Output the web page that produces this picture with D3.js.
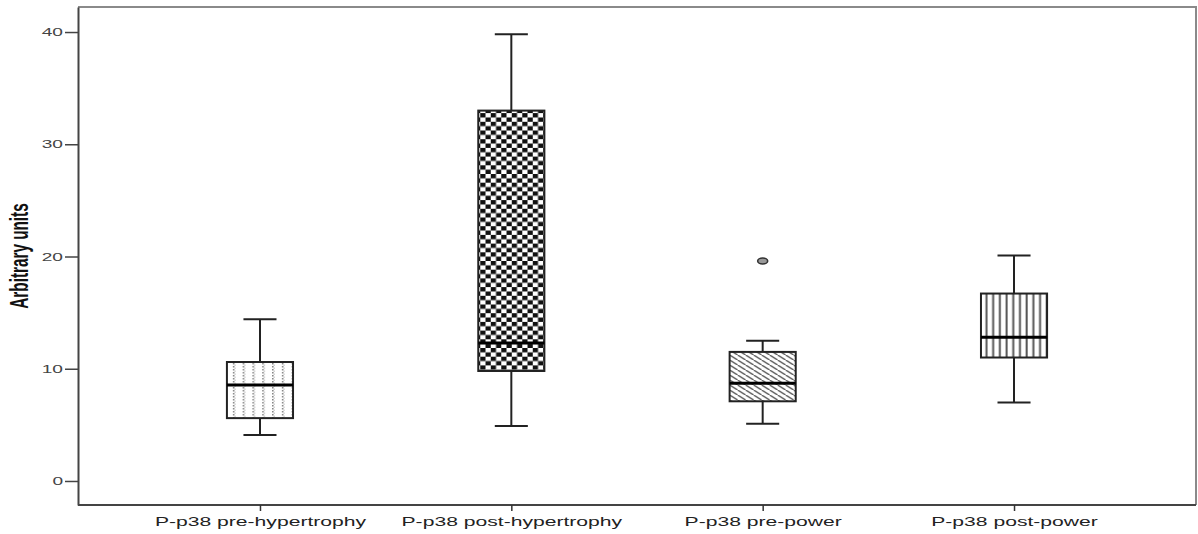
<!DOCTYPE html>
<html>
<head>
<meta charset="utf-8">
<script src="https://cdn.jsdelivr.net/npm/d3@7"></script>
<style>
  html, body { margin: 0; padding: 0; background: #fff; }
  svg { display: block; }
  text { font-family: "Liberation Sans", Arial, sans-serif; }
</style>
</head>
<body>
<svg id="chart" width="1198" height="534"></svg>
<script>
// Box-plot summary values per group (arbitrary units)
const categories   = ["P-p38 pre-hypertrophy", "P-p38 post-hypertrophy", "P-p38 pre-power", "P-p38 post-power"];
const whiskerLow   = [4.1, 4.9, 5.1, 7.0];
const quartile1    = [5.6, 9.8, 7.1, 11.0];
const medians      = [8.55, 12.3, 8.7, 12.8];
const quartile3    = [10.6, 33.0, 11.5, 16.7];
const whiskerHigh  = [14.4, 39.8, 12.5, 20.1];
const outlierGroup = ["P-p38 pre-power"];
const outlierValue = [19.6];
const yTicks       = [0, 10, 20, 30, 40];
const yTitle       = "Arbitrary units";

// Layout
const W = 1198, H = 534;
const plot = { left: 78, right: 1196, top: 7, bottom: 505 };
const SX = 1.65;            // horizontal stretch applied to all text
const svg = d3.select("#chart");

const x = d3.scalePoint().domain(categories).range([plot.left, plot.right]).padding(0.724);
const y = d3.scaleLinear().domain([-2.14, 42.23]).range([plot.bottom, plot.top]);
const boxW = x.step() * 0.263;

// Fill patterns, one per box
const defs = svg.append("defs");
const left = i => x(categories[i]) - boxW / 2;

// 1: vertical dotted columns
const p1 = defs.append("pattern").attr("id", "pat0").attr("patternUnits", "userSpaceOnUse")
  .attr("x", left(0) + 2).attr("y", 0).attr("width", 9.8).attr("height", 3);
p1.append("rect").attr("width", 9.8).attr("height", 3).attr("fill", "#fff");
p1.append("rect").attr("x", 4).attr("y", 0).attr("width", 1.4).attr("height", 1.5).attr("fill", "#777");
p1.append("rect").attr("x", 5.6).attr("y", 1.5).attr("width", 0.8).attr("height", 1.5).attr("fill", "#aaa");

// 2: checkerboard
const p2 = defs.append("pattern").attr("id", "pat1").attr("patternUnits", "userSpaceOnUse")
  .attr("x", left(1) + 2).attr("y", 0).attr("width", 10.5).attr("height", 8.7);
p2.append("rect").attr("width", 10.5).attr("height", 8.7).attr("fill", "#fff");
p2.append("rect").attr("x", 0).attr("y", 0).attr("width", 5.25).attr("height", 4.35).attr("fill", "#111");
p2.append("rect").attr("x", 5.25).attr("y", 4.35).attr("width", 5.25).attr("height", 4.35).attr("fill", "#111");

// 3: diagonal hatch (top-left to bottom-right)
const hw = 8, hh = 5;
const p3 = defs.append("pattern").attr("id", "pat2").attr("patternUnits", "userSpaceOnUse")
  .attr("x", left(2)).attr("y", 0).attr("width", hw).attr("height", hh);
p3.append("rect").attr("width", hw).attr("height", hh).attr("fill", "#fff");
p3.append("path").attr("d", `M-1,${-hh/hw} L${hw+1},${hh + hh/hw} M${-hw-1},${-hh - hh/hw} L1,${hh/hw} M${hw-1},${hh - hh/hw} L${2*hw+1},${2*hh + hh/hw}`)
  .attr("stroke", "#555").attr("stroke-width", 1.4);

// 4: vertical lines
const p4 = defs.append("pattern").attr("id", "pat3").attr("patternUnits", "userSpaceOnUse")
  .attr("x", left(3) + 2).attr("y", 0).attr("width", 6.7).attr("height", 4);
p4.append("rect").attr("width", 6.7).attr("height", 4).attr("fill", "#fff");
p4.append("rect").attr("x", 2.5).attr("y", 0).attr("width", 2).attr("height", 4).attr("fill", "#555");

// Frame: top and right edges
svg.append("path")
  .attr("d", `M${plot.left},${plot.top} H${plot.right} V${plot.bottom}`)
  .attr("fill", "none").attr("stroke", "#8a8a8a").attr("stroke-width", 2);

// Axes
const yAxis = svg.append("g").attr("transform", `translate(${plot.left},0)`)
  .call(d3.axisLeft(y).tickValues(yTicks).tickSize(13).tickPadding(2).tickSizeOuter(0));
yAxis.select(".domain").attr("stroke", "#444").attr("stroke-width", 2);
yAxis.selectAll(".tick line").attr("stroke", "#444").attr("stroke-width", 1.5);
yAxis.selectAll(".tick text")
  .attr("x", -15 / SX).attr("transform", `scale(${SX},1)`)
  .attr("font-size", 11.6).attr("fill", "#444")
  .attr("font-family", "'Liberation Sans', Arial, sans-serif");

const xAxis = svg.append("g").attr("transform", `translate(0,${plot.bottom})`)
  .call(d3.axisBottom(x).tickSize(6).tickPadding(6).tickSizeOuter(0));
xAxis.select(".domain").attr("stroke", "#444").attr("stroke-width", 2)
  .attr("d", `M${plot.left},0H${plot.right}`);
xAxis.selectAll(".tick line").attr("stroke", "#333").attr("stroke-width", 1.5);
xAxis.selectAll(".tick text")
  .attr("transform", `scale(${SX},1)`)
  .attr("font-size", 12.8).attr("fill", "#222")
  .attr("font-family", "'Liberation Sans', Arial, sans-serif");

// Y-axis title
svg.append("text")
  .attr("transform", `translate(28,256) scale(${SX},1) rotate(-90)`)
  .attr("text-anchor", "middle")
  .attr("font-size", 15.3).attr("font-weight", "bold").attr("fill", "#111")
  .text(yTitle);

// Boxes
const g = svg.append("g");
categories.forEach((c, i) => {
  const cx = x(c);
  const stroke = "#222";
  // whiskers
  g.append("line").attr("x1", cx).attr("x2", cx).attr("y1", y(quartile3[i])).attr("y2", y(whiskerHigh[i]))
    .attr("stroke", stroke).attr("stroke-width", 2);
  g.append("line").attr("x1", cx).attr("x2", cx).attr("y1", y(quartile1[i])).attr("y2", y(whiskerLow[i]))
    .attr("stroke", stroke).attr("stroke-width", 2);
  [whiskerHigh[i], whiskerLow[i]].forEach(v => {
    g.append("line").attr("x1", cx - boxW / 4).attr("x2", cx + boxW / 4).attr("y1", y(v)).attr("y2", y(v))
      .attr("stroke", stroke).attr("stroke-width", 2);
  });
  // box
  g.append("rect")
    .attr("x", cx - boxW / 2).attr("width", boxW)
    .attr("y", y(quartile3[i])).attr("height", y(quartile1[i]) - y(quartile3[i]))
    .attr("fill", `url(#pat${i})`).attr("stroke", stroke).attr("stroke-width", 2);
  // median
  g.append("line").attr("x1", cx - boxW / 2).attr("x2", cx + boxW / 2)
    .attr("y1", y(medians[i])).attr("y2", y(medians[i]))
    .attr("stroke", "#000").attr("stroke-width", 3);
});

// Outliers
outlierGroup.forEach((c, k) => {
  g.append("ellipse").attr("cx", x(c)).attr("cy", y(outlierValue[k]))
    .attr("rx", 5).attr("ry", 3)
    .attr("fill", "#999").attr("stroke", "#333").attr("stroke-width", 1.6);
});
</script>
</body>
</html>
